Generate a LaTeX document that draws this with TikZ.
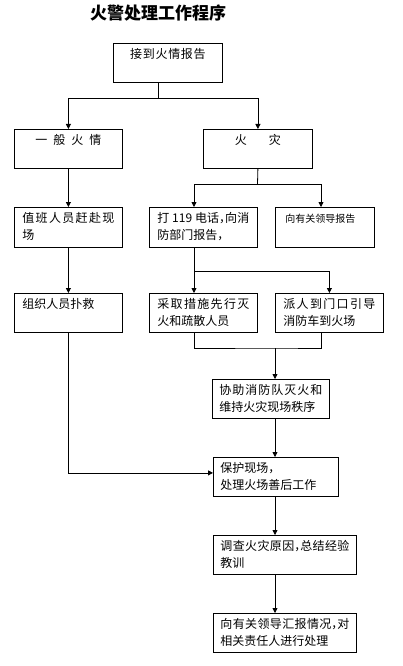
\documentclass[tikz,border=0pt]{standalone}
\usepackage{fontspec}
\setmainfont{Noto Sans CJK SC}
\usetikzlibrary{arrows.meta}
\XeTeXlinebreaklocale "zh"
\XeTeXlinebreakskip=0pt plus 2pt
\newcommand\hcm{\makebox[6pt][l]{，}}
\tikzset{
  box/.style={draw, line width=0.8pt, anchor=north west, inner ysep=0pt, inner xsep=8pt,
    text height=15pt, align=justify, font=\fontsize{12pt}{17pt}\selectfont},
  ctr/.style={align=center},
  arr/.style={line width=0.8pt, -{Triangle[length=5pt,width=5pt]}},
  ln/.style={line width=0.8pt}
}
\begin{document}
\begin{tikzpicture}[x=1pt,y=1pt]
\useasboundingbox (0,0) rectangle (402,-666);
\node[font=\fontsize{17pt}{20pt}\selectfont\bfseries] (title) at (158,-13) {火警处理工作程序};
\node[box,ctr,text width=93pt,text depth=24pt] (b1) at (113,-43) {接到火情报告};
\node[box,ctr,text width=92pt,text depth=24pt] (b2) at (14,-129) {一\hspace{6pt}般\hspace{6pt}火\hspace{6pt}情};
\node[box,ctr,text width=93pt,text depth=24pt] (b3) at (203,-129) {火\hspace{22pt}灾};
\node[box,text width=92pt,text depth=25pt] (b4) at (14,-207) {值班人员赶赴现\linebreak 场};
\node[box,text width=92pt,text depth=25pt] (b5) at (149,-207) {打 119 电话\hcm 向消\linebreak 防部门报告，};
\node[box,text width=79pt,inner xsep=10pt,text depth=25pt,font=\fontsize{10pt}{14pt}\selectfont] (b6) at (275,-207) {向有关领导报告};
\node[box,text width=92pt,text depth=24pt] (b7) at (14,-293) {组织人员扑救};
\node[box,text width=92pt,text depth=24pt] (b8) at (149,-293) {采取措施先行灭\linebreak 火和疏散人员};
\node[box,text width=92pt,text depth=24pt] (b9) at (275,-293) {派人到门口引导\linebreak 消防车到火场};
\node[box,text width=103pt,inner xsep=7pt,text depth=24pt] (b10) at (212,-379) {协助消防队灭火和\linebreak 维持火灾现场秩序};
\node[box,text width=111pt,inner xsep=7pt,text depth=24pt] (b11) at (213,-457) {保护现场，\\处理火场善后工作};
\node[box,text width=129pt,inner xsep=7pt,text depth=24pt] (b12) at (213,-535) {调查火灾原因\hcm 总结经验\linebreak 教训};
\node[box,text width=129pt,inner xsep=7pt,text depth=24pt] (b13) at (213,-613) {向有关领导汇报情况\hcm 对\linebreak 相关责任人进行处理};
% connectors
\coordinate (j1) at (158,-98);
\draw[ln] (b1.south -| j1) -- (j1);
\draw[arr] (j1) -| (b2.north);
\draw[arr] (j1) -| (b3.north);
\draw[arr] (b2.south) -- (b4.north);
\coordinate (j2) at (257.5,-184);
\draw[ln] (b3.south) -- (j2);
\draw[arr] (j2) -| ([xshift=45pt]b5.north west);
\draw[arr] (j2) -| ([xshift=46pt]b6.north west);
\draw[arr] (b4.south) -- (b7.north);
\draw[arr] ([xshift=45pt]b5.south west) -- ([xshift=45pt]b8.north west);
\coordinate (j3) at (194,-271);
\draw[arr] (j3) -| (b9.north);
\coordinate (j4) at (275,-348);
\draw[ln] ([xshift=45pt]b8.south west) |- (j4) -| ([xshift=46pt]b9.south west);
\draw[arr] (j4) -- (j4 |- b10.north);
\draw[arr] ([xshift=63pt]b10.south west) -- ([xshift=62pt]b11.north west);
\draw[arr] (b7.south) |- ([yshift=4pt]b11.west);
\draw[arr] ([xshift=62pt]b11.south west) -- ([xshift=62pt]b12.north west);
\draw[arr] ([xshift=62pt]b12.south west) -- ([xshift=62pt]b13.north west);
\end{tikzpicture}
\end{document}
